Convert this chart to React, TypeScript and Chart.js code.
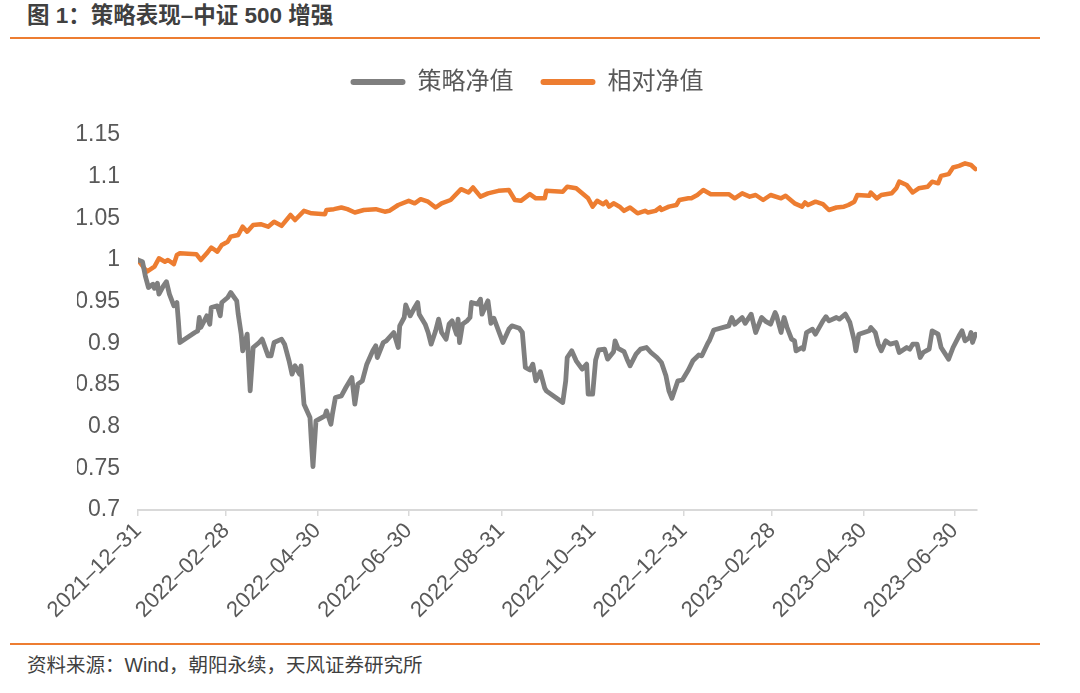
import React, { useEffect, useRef } from "react";
import { Chart, registerables } from "chart.js";

Chart.register(...registerables);

const FONT = "'Liberation Sans', 'Noto Sans CJK SC', sans-serif";

const titleText = "图 1：策略表现–中证 500 增强";
const sourceText = "资料来源：Wind，朝阳永续，天风证券研究所";
const seriesNames = ["策略净值", "相对净值"];
const seriesColors = ["#7F7F7F", "#ED7D31"];

const tickDates = [
  "2021-12-31", "2022-02-28", "2022-04-30", "2022-06-30", "2022-08-31",
  "2022-10-31", "2022-12-31", "2023-02-28", "2023-04-30", "2023-06-30",
];
const tickLabels = [
  "2021–12–31", "2022–02–28", "2022–04–30", "2022–06–30", "2022–08–31",
  "2022–10–31", "2022–12–31", "2023–02–28", "2023–04–30", "2023–06–30",
];
const axisEndDate = "2023-07-15";
const yTicks = [0.7, 0.75, 0.8, 0.85, 0.9, 0.95, 1, 1.05, 1.1, 1.15];

const strategyDates = [
  "2021-12-31", "2022-01-03", "2022-01-05", "2022-01-07", "2022-01-10", "2022-01-11", "2022-01-13", "2022-01-14",
  "2022-01-17", "2022-01-19", "2022-01-21", "2022-01-24", "2022-01-26", "2022-01-27", "2022-01-28", "2022-02-07",
  "2022-02-09", "2022-02-10", "2022-02-11", "2022-02-15", "2022-02-17", "2022-02-18", "2022-02-22", "2022-02-24",
  "2022-02-25", "2022-03-01", "2022-03-03", "2022-03-07", "2022-03-08", "2022-03-10", "2022-03-11", "2022-03-14",
  "2022-03-16", "2022-03-18", "2022-03-22", "2022-03-24", "2022-03-28", "2022-03-30", "2022-04-01", "2022-04-06",
  "2022-04-08", "2022-04-11", "2022-04-13", "2022-04-15", "2022-04-18", "2022-04-19", "2022-04-21", "2022-04-25",
  "2022-04-26", "2022-04-27", "2022-04-29", "2022-05-05", "2022-05-06", "2022-05-09", "2022-05-10", "2022-05-12",
  "2022-05-16", "2022-05-19", "2022-05-23", "2022-05-25", "2022-05-27", "2022-05-30", "2022-06-02", "2022-06-06",
  "2022-06-08", "2022-06-09", "2022-06-13", "2022-06-15", "2022-06-20", "2022-06-23", "2022-06-24", "2022-06-27",
  "2022-06-28", "2022-07-01", "2022-07-04", "2022-07-06", "2022-07-07", "2022-07-11", "2022-07-13", "2022-07-15",
  "2022-07-18", "2022-07-20", "2022-07-22", "2022-07-25", "2022-07-27", "2022-07-29", "2022-08-01", "2022-08-02",
  "2022-08-03", "2022-08-05", "2022-08-08", "2022-08-10", "2022-08-11", "2022-08-15", "2022-08-17", "2022-08-18",
  "2022-08-22", "2022-08-24", "2022-08-26", "2022-09-01", "2022-09-05", "2022-09-07", "2022-09-12", "2022-09-14",
  "2022-09-16", "2022-09-19", "2022-09-21", "2022-09-23", "2022-09-26", "2022-09-29", "2022-09-30", "2022-10-11",
  "2022-10-13", "2022-10-14", "2022-10-17", "2022-10-20", "2022-10-24", "2022-10-27", "2022-10-28", "2022-10-31",
  "2022-11-02", "2022-11-04", "2022-11-08", "2022-11-10", "2022-11-14", "2022-11-15", "2022-11-17", "2022-11-21",
  "2022-11-23", "2022-11-25", "2022-11-29", "2022-12-02", "2022-12-06", "2022-12-09", "2022-12-13", "2022-12-16",
  "2022-12-19", "2022-12-21", "2022-12-23", "2022-12-27", "2022-12-30", "2023-01-03", "2023-01-06", "2023-01-10",
  "2023-01-12", "2023-01-16", "2023-01-17", "2023-01-20", "2023-01-30", "2023-02-01", "2023-02-03", "2023-02-08",
  "2023-02-10", "2023-02-14", "2023-02-17", "2023-02-21", "2023-02-24", "2023-02-27", "2023-03-02", "2023-03-03",
  "2023-03-06", "2023-03-08", "2023-03-10", "2023-03-13", "2023-03-15", "2023-03-16", "2023-03-20", "2023-03-21",
  "2023-03-23", "2023-03-27", "2023-03-29", "2023-04-03", "2023-04-05", "2023-04-07", "2023-04-12", "2023-04-14",
  "2023-04-18", "2023-04-21", "2023-04-24", "2023-04-25", "2023-04-27", "2023-05-04", "2023-05-05", "2023-05-08",
  "2023-05-10", "2023-05-12", "2023-05-15", "2023-05-18", "2023-05-22", "2023-05-24", "2023-05-29", "2023-05-31",
  "2023-06-02", "2023-06-05", "2023-06-07", "2023-06-09", "2023-06-13", "2023-06-15", "2023-06-19", "2023-06-21",
  "2023-06-26", "2023-06-29", "2023-07-03", "2023-07-05", "2023-07-07", "2023-07-10", "2023-07-11", "2023-07-12",
  "2023-07-14",
];
const strategyValues = [
  1.000, 0.998, 0.980, 0.967, 0.971, 0.966, 0.972, 0.959,
  0.969, 0.974, 0.959, 0.945, 0.949, 0.927, 0.901, 0.913,
  0.915, 0.931, 0.919, 0.933, 0.923, 0.943, 0.945, 0.933,
  0.949, 0.955, 0.961, 0.951, 0.935, 0.911, 0.891, 0.911,
  0.843, 0.895, 0.901, 0.905, 0.885, 0.885, 0.901, 0.905,
  0.899, 0.879, 0.863, 0.873, 0.863, 0.873, 0.827, 0.811,
  0.780, 0.752, 0.807, 0.813, 0.819, 0.803, 0.815, 0.835,
  0.837, 0.847, 0.859, 0.827, 0.851, 0.855, 0.875, 0.891,
  0.897, 0.883, 0.901, 0.903, 0.913, 0.895, 0.921, 0.931,
  0.946, 0.933, 0.943, 0.949, 0.935, 0.923, 0.913, 0.899,
  0.915, 0.929, 0.913, 0.905, 0.923, 0.927, 0.911, 0.929,
  0.901, 0.923, 0.927, 0.931, 0.949, 0.947, 0.953, 0.935,
  0.951, 0.924, 0.930, 0.901, 0.917, 0.921, 0.918, 0.913,
  0.871, 0.868, 0.875, 0.855, 0.866, 0.846, 0.843, 0.829,
  0.855, 0.883, 0.891, 0.879, 0.869, 0.875, 0.839, 0.839,
  0.880, 0.892, 0.893, 0.881, 0.890, 0.903, 0.894, 0.890,
  0.881, 0.873, 0.887, 0.893, 0.895, 0.889, 0.883, 0.877,
  0.861, 0.843, 0.834, 0.855, 0.856, 0.868, 0.879, 0.886,
  0.885, 0.900, 0.903, 0.916, 0.921, 0.931, 0.923, 0.931,
  0.924, 0.935, 0.913, 0.931, 0.926, 0.923, 0.937, 0.933,
  0.913, 0.931, 0.919, 0.905, 0.903, 0.891, 0.895, 0.893,
  0.913, 0.917, 0.911, 0.927, 0.932, 0.927, 0.931, 0.929,
  0.935, 0.925, 0.903, 0.891, 0.911, 0.915, 0.919, 0.913,
  0.899, 0.891, 0.903, 0.899, 0.901, 0.889, 0.895, 0.893,
  0.899, 0.899, 0.883, 0.889, 0.893, 0.915, 0.911, 0.895,
  0.881, 0.895, 0.909, 0.915, 0.903, 0.907, 0.913, 0.901,
  0.911,
];

const relativeDates = [
  "2021-12-31", "2022-01-06", "2022-01-11", "2022-01-14", "2022-01-18", "2022-01-20", "2022-01-24", "2022-01-26",
  "2022-01-28", "2022-02-08", "2022-02-11", "2022-02-15", "2022-02-18", "2022-02-22", "2022-02-25", "2022-03-01",
  "2022-03-03", "2022-03-08", "2022-03-11", "2022-03-14", "2022-03-18", "2022-03-23", "2022-03-28", "2022-04-01",
  "2022-04-06", "2022-04-12", "2022-04-15", "2022-04-21", "2022-04-26", "2022-05-05", "2022-05-06", "2022-05-11",
  "2022-05-16", "2022-05-20", "2022-05-25", "2022-05-31", "2022-06-08", "2022-06-14", "2022-06-17", "2022-06-23",
  "2022-06-30", "2022-07-04", "2022-07-08", "2022-07-13", "2022-07-18", "2022-07-22", "2022-07-28", "2022-08-04",
  "2022-08-09", "2022-08-12", "2022-08-17", "2022-08-22", "2022-08-29", "2022-09-05", "2022-09-09", "2022-09-13",
  "2022-09-19", "2022-09-23", "2022-09-29", "2022-09-30", "2022-10-11", "2022-10-14", "2022-10-20", "2022-10-24",
  "2022-10-28", "2022-10-31", "2022-11-03", "2022-11-07", "2022-11-09", "2022-11-11", "2022-11-14", "2022-11-18",
  "2022-11-21", "2022-11-25", "2022-11-30", "2022-12-05", "2022-12-07", "2022-12-12", "2022-12-15", "2022-12-16",
  "2022-12-21", "2022-12-26", "2022-12-28", "2023-01-03", "2023-01-05", "2023-01-09", "2023-01-13", "2023-01-18",
  "2023-01-30", "2023-02-03", "2023-02-08", "2023-02-13", "2023-02-17", "2023-02-22", "2023-02-27", "2023-03-06",
  "2023-03-09", "2023-03-15", "2023-03-20", "2023-03-22", "2023-03-24", "2023-03-29", "2023-04-03", "2023-04-07",
  "2023-04-12", "2023-04-17", "2023-04-20", "2023-04-24", "2023-04-26", "2023-05-04", "2023-05-05", "2023-05-09",
  "2023-05-12", "2023-05-19", "2023-05-22", "2023-05-24", "2023-05-29", "2023-06-02", "2023-06-06", "2023-06-12",
  "2023-06-15", "2023-06-19", "2023-06-21", "2023-06-26", "2023-06-29", "2023-07-03", "2023-07-07", "2023-07-11",
  "2023-07-14",
];
const relativeValues = [
  1.000, 0.986, 0.992, 1.002, 0.998, 1.000, 0.995, 1.006,
  1.008, 1.007, 1.000, 1.008, 1.015, 1.010, 1.018, 1.022,
  1.028, 1.030, 1.040, 1.034, 1.042, 1.043, 1.040, 1.046,
  1.041, 1.054, 1.048, 1.059, 1.056, 1.055, 1.060, 1.061,
  1.063, 1.061, 1.057, 1.060, 1.061, 1.058, 1.059, 1.066,
  1.071, 1.068, 1.073, 1.070, 1.063, 1.068, 1.072, 1.085,
  1.081, 1.087, 1.076, 1.080, 1.083, 1.084, 1.072, 1.071,
  1.079, 1.074, 1.074, 1.083, 1.082, 1.088, 1.086, 1.080,
  1.074, 1.064, 1.071, 1.067, 1.070, 1.064, 1.068, 1.064,
  1.059, 1.063, 1.056, 1.059, 1.057, 1.059, 1.063, 1.060,
  1.064, 1.066, 1.072, 1.074, 1.074, 1.078, 1.084, 1.079,
  1.079, 1.074, 1.080, 1.076, 1.078, 1.072, 1.078, 1.074,
  1.077, 1.068, 1.064, 1.069, 1.066, 1.070, 1.067, 1.060,
  1.063, 1.064, 1.066, 1.070, 1.078, 1.077, 1.081, 1.074,
  1.078, 1.080, 1.086, 1.094, 1.090, 1.081, 1.086, 1.088,
  1.094, 1.092, 1.101, 1.103, 1.111, 1.113, 1.116, 1.114,
  1.109,
];

const BASE = Date.UTC(2021, 11, 31);
const toDay = (s: string): number => {
  const [y, m, d] = s.split("-").map(Number);
  return (Date.UTC(y, m - 1, d) - BASE) / 86400000;
};

const legendSpacer = {
  id: "legendSpacer",
  beforeLayout(chart: any) {
    const legend = chart.legend;
    if (legend && !legend.__patched) {
      const fit = legend.fit;
      legend.fit = function () {
        fit.call(this);
        this.height += 31;
      };
      legend.__patched = true;
    }
  },
};

function LineChart() {
  const ref = useRef<HTMLCanvasElement | null>(null);
  useEffect(() => {
    if (!ref.current) return;
    const tickDays = tickDates.map(toDay);
    const chart = new Chart(ref.current, {
      type: "line",
      data: {
        datasets: [
          {
            label: seriesNames[0],
            data: strategyDates.map((d, i) => ({ x: toDay(d), y: strategyValues[i] })),
            borderColor: seriesColors[0],
            backgroundColor: seriesColors[0],
            borderWidth: 4.8,
            pointRadius: 0,
            tension: 0,
            borderJoinStyle: "round",
            borderCapStyle: "round",
          },
          {
            label: seriesNames[1],
            data: relativeDates.map((d, i) => ({ x: toDay(d), y: relativeValues[i] })),
            borderColor: seriesColors[1],
            backgroundColor: seriesColors[1],
            borderWidth: 4.5,
            pointRadius: 0,
            tension: 0,
            borderJoinStyle: "round",
            borderCapStyle: "round",
          },
        ],
      },
      options: {
        animation: false,
        responsive: false,
        devicePixelRatio: 1,
        layout: { padding: { left: 77, right: 103, top: 0, bottom: 0 } },
        plugins: {
          tooltip: { enabled: false },
          legend: {
            display: true,
            position: "top",
            align: "center",
            labels: {
              font: { family: FONT, size: 24 },
              color: "#595959",
              boxWidth: 55,
              boxHeight: 6,
              padding: 27,
              generateLabels: (c: any) =>
                c.data.datasets.map((ds: any, i: number) => ({
                  text: ds.label,
                  fillStyle: ds.borderColor,
                  strokeStyle: ds.borderColor,
                  lineWidth: 0,
                  borderRadius: 3,
                  hidden: false,
                  datasetIndex: i,
                  fontColor: "#595959",
                })),
            },
          },
        },
        scales: {
          x: {
            type: "linear",
            min: 0,
            max: toDay(axisEndDate),
            afterBuildTicks: (scale: any) => {
              scale.ticks = tickDays.map((v) => ({ value: v }));
            },
            afterFit: (scale: any) => {
              scale.height = 130;
            },
            ticks: {
              autoSkip: false,
              maxRotation: 45,
              minRotation: 45,
              padding: 2,
              color: "#595959",
              font: { family: FONT, size: 22 },
              callback: (v: any) => {
                const idx = tickDays.indexOf(Number(v));
                return idx >= 0 ? tickLabels[idx] : "";
              },
            },
            grid: {
              display: true,
              drawOnChartArea: false,
              drawTicks: true,
              tickLength: 6,
              color: "#D9D9D9",
              lineWidth: 1.5,
            },
            border: { display: true, color: "#D9D9D9", width: 2 },
          },
          y: {
            type: "linear",
            min: 0.7,
            max: 1.15,
            afterBuildTicks: (scale: any) => {
              scale.ticks = yTicks.map((v) => ({ value: v }));
            },
            afterFit: (scale: any) => {
              scale.width = 61;
            },
            ticks: {
              padding: 18,
              color: "#595959",
              font: { family: FONT, size: 23 },
              callback: (v: any) => String(Number(Number(v).toFixed(2))),
            },
            grid: { display: false, drawTicks: false },
            border: { display: false },
          },
        },
      },
      plugins: [legendSpacer],
    } as any);
    return () => chart.destroy();
  }, []);
  return <canvas ref={ref} width={1080} height={597} style={{ display: "block" }} />;
}

export default function App() {
  return (
    <div style={{ position: "absolute", left: 0, top: 0, width: 1080, height: 693, background: "#fff", fontFamily: FONT }}>
      <div
        style={{
          position: "absolute",
          left: 27,
          top: 3,
          fontSize: 22.5,
          fontWeight: "bold",
          color: "#404040",
          lineHeight: "26px",
          whiteSpace: "nowrap",
        }}
      >
        {titleText}
      </div>
      <div style={{ position: "absolute", left: 10, top: 37, width: 1030, height: 2, background: "#ED7D31" }} />
      <div style={{ position: "absolute", left: 0, top: 43, width: 1080, height: 597 }}>
        <LineChart />
      </div>
      <div style={{ position: "absolute", left: 10, top: 643, width: 1030, height: 2, background: "#ED7D31" }} />
      <div
        style={{
          position: "absolute",
          left: 27,
          top: 654,
          fontSize: 19.5,
          color: "#404040",
          lineHeight: "22px",
          whiteSpace: "nowrap",
        }}
      >
        {sourceText}
      </div>
    </div>
  );
}
